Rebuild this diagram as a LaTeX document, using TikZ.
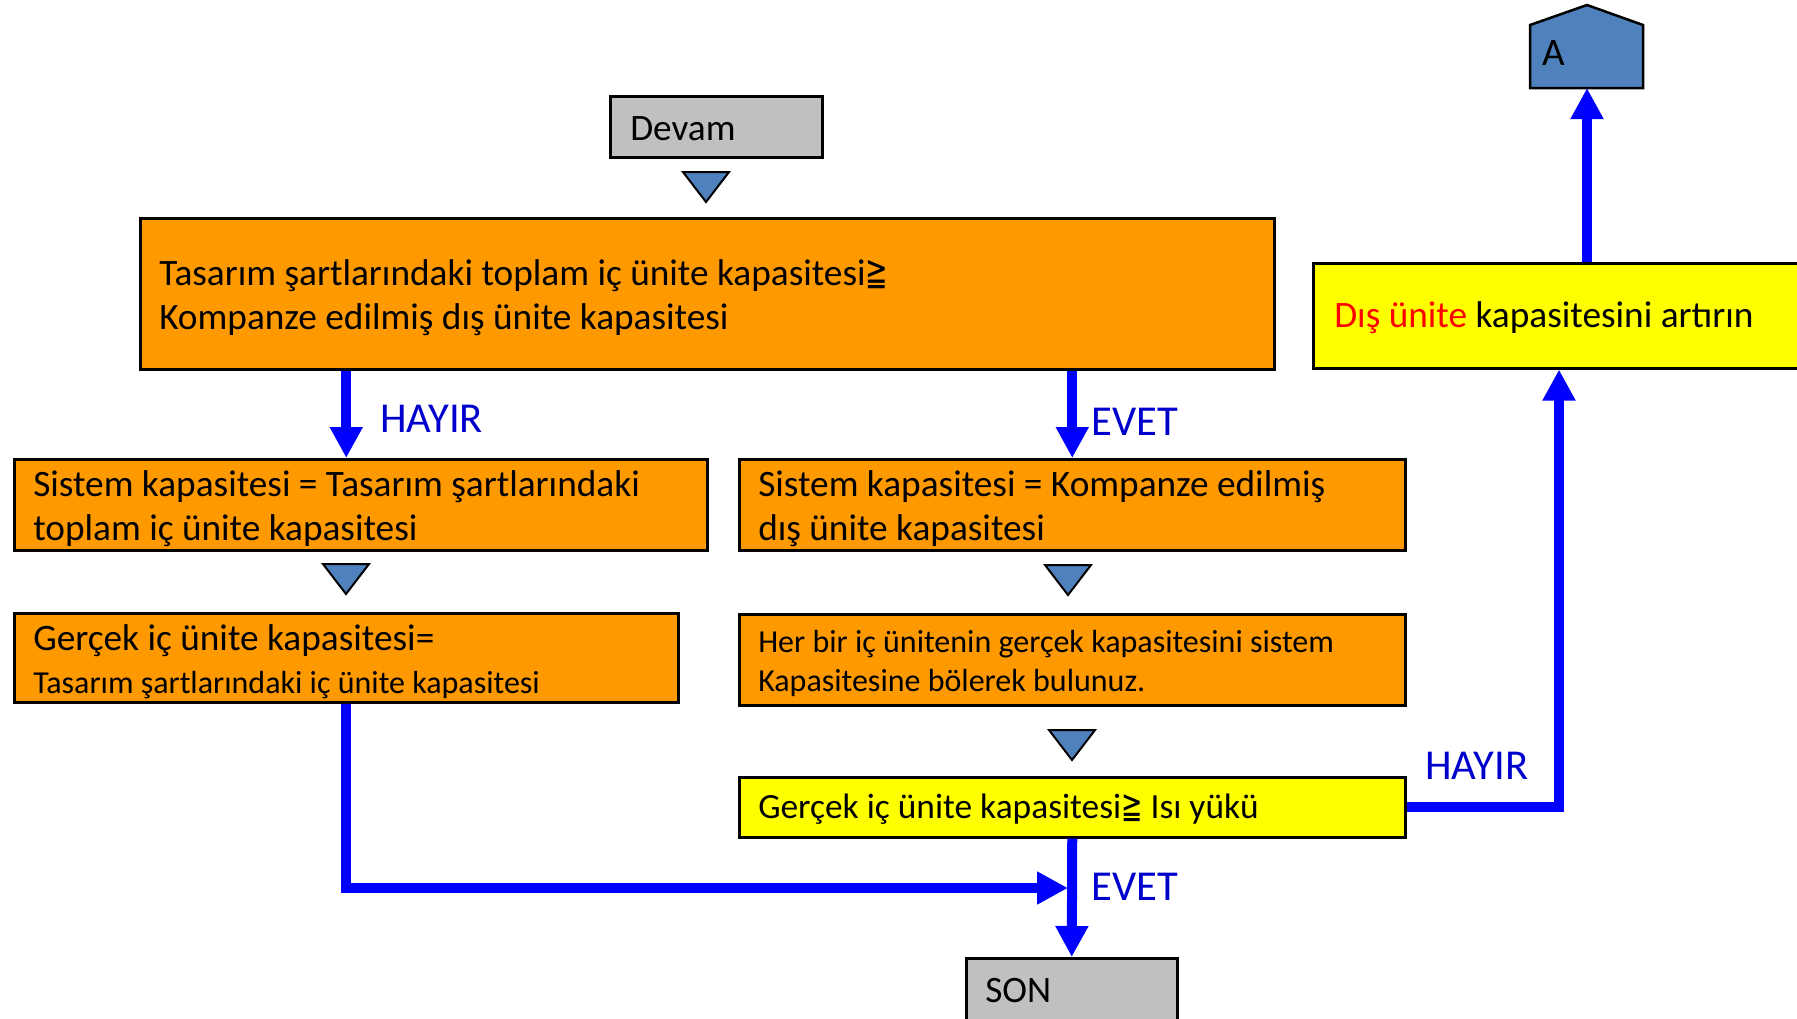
\documentclass[tikz,border=0pt]{standalone}
\usepackage{fontspec}
\usepackage{graphicx}
\setmainfont{Carlito}
\newfontfamily\symfont{DejaVu Sans}
\usetikzlibrary{arrows.meta,calc}
\definecolor{orng}{HTML}{FF9900}
\definecolor{yel}{HTML}{FFFF00}
\definecolor{gry}{HTML}{C0C0C0}
\definecolor{triblue}{HTML}{4F81BD}
\definecolor{arrblue}{HTML}{0000FF}
\definecolor{lblblue}{HTML}{0000CC}
\definecolor{redtxt}{HTML}{FF0000}
\newcommand{\gesym}{\scalebox{0.72}[1.05]{\symfont ≧}}
% box text: lowered by #1 without changing its extent
\newcommand{\bt}[3][1.75pt]{\raisebox{-#1}[\height][\depth]{\parbox[t]{#2}{\raggedright #3}}}
\begin{document}
\begin{tikzpicture}[x=0.5pt,y=-0.5pt,
  box/.style={draw=black, line width=1.25pt, anchor=north west,
    inner xsep=9.5pt, inner ysep=0pt, font=\fontsize{18.65}{22}\selectfont},
  flow/.style={draw=arrblue, line width=5pt, -{Triangle[width=15.5pt,length=15.5pt]}},
  lbl/.style={text=lblblue, anchor=west, inner sep=0pt, font=\fontsize{21.3}{24}\selectfont},
  downtri/.pic={\draw[fill=triblue, line width=1pt, line join=miter] (-23,0) -- (23,0) -- (0,30) -- cycle;}
]
\path[use as bounding box] (0,0) rectangle (1797,1018);
\clip (0,0) rectangle (1797,1018);
\fill[white] (0,0) rectangle (1797,1018);

% boxes
\node[box, fill=gry, minimum width=106pt, minimum height=30.5pt, inner xsep=10pt] (devam) at (609,95)
  {\bt[0.8pt]{86pt}{Devam}};
\node[box, fill=orng, minimum width=567pt, minimum height=75.5pt] (big) at (139,217)
  {\bt{548pt}{Tasarım şartlarındaki toplam iç ünite kapasitesi\gesym\\Kompanze edilmiş dış ünite kapasitesi}};
\node[box, fill=orng, minimum width=346.5pt, minimum height=45.5pt] (sysL) at (13,458)
  {\bt{327.5pt}{Sistem kapasitesi = Tasarım şartlarındaki\\toplam iç ünite kapasitesi}};
\node[box, fill=orng, minimum width=333pt, minimum height=45.5pt] (sysR) at (738,458)
  {\bt{314pt}{Sistem kapasitesi = Kompanze edilmiş\\dış ünite kapasitesi}};
\node[box, fill=orng, minimum width=332pt, minimum height=44.5pt,
  font=\fontsize{18.65}{21.5}\selectfont] (realL) at (13,612)
  {\bt{313pt}{Gerçek iç ünite kapasitesi=\\{\fontsize{16}{21.5}\selectfont Tasarım şartlarındaki iç ünite kapasitesi}}};
\node[box, fill=orng, minimum width=333pt, minimum height=45.5pt,
  font=\fontsize{16}{19.5}\selectfont] (realR) at (738,613)
  {\bt{314pt}{Her bir iç ünitenin gerçek kapasitesini sistem\\Kapasitesine bölerek bulunuz.}};
\node[box, fill=yel, minimum width=333pt, minimum height=30pt,
  font=\fontsize{17.7}{22}\selectfont] (check) at (738,776)
  {\bt[1.2pt]{314pt}{Gerçek iç ünite kapasitesi\gesym{} Isı yükü}};
\node[box, fill=yel, minimum width=250pt, minimum height=52.5pt, inner xsep=10.5pt] (incr) at (1312,262)
  {\bt[1.2pt]{229pt}{\textcolor{redtxt}{Dış ünite} kapasitesini artırın}};
\node[box, fill=gry, minimum width=105.5pt, minimum height=32pt] (son) at (965,957)
  {\bt[0pt]{86.5pt}{SON}};

% A connector
\draw[fill=triblue, line width=1.25pt] (1530,88) -- (1530,25) -- (1587,5) -- (1643,25) -- (1643,88) -- cycle;
\coordinate (Abot) at (1587,88);
\node[anchor=west, inner sep=0pt, font=\fontsize{19.5}{22}\selectfont] (Alab) at (1542,53) {A};

% small triangles
\pic at (706,172) {downtri};
\pic at (346,564) {downtri};
\pic at (1068,565) {downtri};
\pic at (1072,730) {downtri};

% flows
\coordinate (join) at (1068,888);
\draw[flow] (big.south -| realL.south) -- (sysL.north -| realL.south);
\draw[flow] (big.south -| sysR.north) -- (sysR.north);
\draw[flow] (realL.south) |- (join);
\draw[flow] (check.south) -- (son.north);
\draw[flow] (check.east) -| ([xshift=123.5pt]incr.south west);
\draw[flow] (incr.north -| Abot) -- (Abot);

% labels
\node[lbl] (l1) at (380,419) {HAYIR};
\node[lbl] (l2) at (1091,422) {EVET};
\node[lbl] (l3) at (1425,766) {HAYIR};
\node[lbl] (l4) at (1091,887) {EVET};
\end{tikzpicture}
\end{document}
